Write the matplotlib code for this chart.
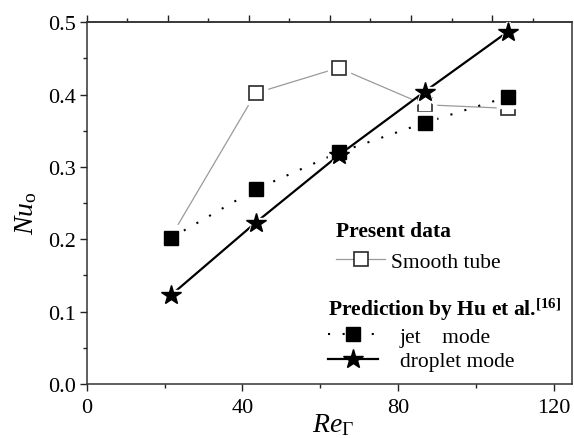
import matplotlib
matplotlib.use("Agg")
import matplotlib.pyplot as plt
from matplotlib.ticker import MultipleLocator, FormatStrFormatter

plt.rcParams['font.family'] = ['Liberation Serif', 'DejaVu Serif']
plt.rcParams['mathtext.fontset'] = 'custom'
plt.rcParams['mathtext.rm'] = 'Liberation Serif'
plt.rcParams['mathtext.it'] = 'Liberation Serif:italic'
plt.rcParams['mathtext.bf'] = 'Liberation Serif:bold'

re_gamma = [21.7, 43.4, 64.7, 86.8, 108.2]
smooth_tube = [0.204, 0.402, 0.437, 0.386, 0.381]
jet_mode = [0.202, 0.269, 0.320, 0.361, 0.397]
droplet_mode = [0.123, 0.223, 0.316, 0.404, 0.487]

fig = plt.figure(figsize=(5.74, 4.39), dpi=100)
ax = fig.add_axes([0.151, 0.123, 0.8463, 0.824])


def series(y, line_kw, marker, ms, mfc, mec, mew, z, zmark=None):
    # line, then a white halo that leaves a small gap round each marker, then the marker
    ax.plot(re_gamma, y, marker='none', zorder=z, **line_kw)
    ax.plot(re_gamma, y, ls='none', marker=marker, ms=ms + 6, mfc='white',
            mec='white', zorder=z + 0.1)
    ax.plot(re_gamma, y, ls='none', marker=marker, ms=ms, mfc=mfc,
            mec=mec, mew=mew, zorder=zmark if zmark is not None else z + 0.2)
    handle, = ax.plot([], [], marker=marker, ms=ms, mfc=mfc, mec=mec, mew=mew,
                      **line_kw)
    return handle


h_smooth = series(smooth_tube, dict(color='#9a9a9a', lw=0.9, ls='-'),
                  's', 10, 'white', '#2a2a2a', 1.2, 2)
h_jet = series(jet_mode, dict(color='black', lw=1.5, ls=(0, (1, 6))),
               's', 10, 'black', 'black', 1.0, 3, zmark=6)
h_drop = series(droplet_mode, dict(color='black', lw=1.6, ls='-'),
                '*', 15, 'black', 'black', 1.0, 4)

ax.set_xlim(0, 124.8)
ax.set_ylim(0, 0.5)
ax.xaxis.set_major_locator(MultipleLocator(40))
ax.xaxis.set_minor_locator(MultipleLocator(20))
ax.yaxis.set_major_locator(MultipleLocator(0.1))
ax.yaxis.set_minor_locator(MultipleLocator(0.05))
ax.yaxis.set_major_formatter(FormatStrFormatter('%.1f'))

ax.tick_params(axis='both', which='both', direction='out', labelsize=16,
               width=1.0, color='#222222', top=False, right=False)
ax.tick_params(which='major', length=5)
ax.tick_params(which='minor', length=3)
ax.tick_params(axis='x', pad=5)
ax.tick_params(axis='y', pad=3)
for s in ax.spines.values():
    s.set_linewidth(1.1)
    s.set_color('#333333')

# upper axis carries its own outward tick marks, no labels
top = ax.secondary_xaxis('top', functions=(lambda x: x * 0.96, lambda x: x / 0.96))
top.xaxis.set_major_locator(MultipleLocator(20))
top.xaxis.set_minor_locator(MultipleLocator(10))
top.tick_params(which='both', direction='out', labeltop=False, width=1.0,
                color='#222222')
top.tick_params(which='major', length=5)
top.tick_params(which='minor', length=3)
top.spines['top'].set_linewidth(1.1)
top.spines['top'].set_color('#333333')

ax.set_xlabel(r'$\mathit{Re}_{\Gamma}$', fontsize=20)
ax.set_ylabel(r'$\mathit{Nu}_{\mathrm{o}}$', fontsize=20)
ax.xaxis.set_label_coords(0.507, -0.074)
ax.yaxis.set_label_coords(-0.098, 0.474)

leg1 = ax.legend([h_smooth], ['Smooth tube'], title='Present data',
                 loc='upper left', bbox_to_anchor=(0.513, 0.451), frameon=False,
                 fontsize=15.5, handlelength=2.3, handletextpad=0.28,
                 alignment='left', borderaxespad=0, borderpad=0)
leg1.get_title().set_fontweight('bold')
leg1.get_title().set_fontsize(15.5)
ax.add_artist(leg1)

leg2 = ax.legend([h_jet, h_drop], ['jet    mode', 'droplet mode'],
                 title=r'Prediction by Hu et al.$^{\mathbf{[16]}}$',
                 loc='upper left', bbox_to_anchor=(0.497, 0.245), frameon=False,
                 fontsize=15.5, handlelength=2.3, handletextpad=1.02,
                 alignment='left', borderaxespad=0, borderpad=0,
                 labelspacing=0.22)
leg2.get_title().set_fontweight('bold')
leg2.get_title().set_fontsize(15.5)

fig.savefig('out.png', dpi=100)
